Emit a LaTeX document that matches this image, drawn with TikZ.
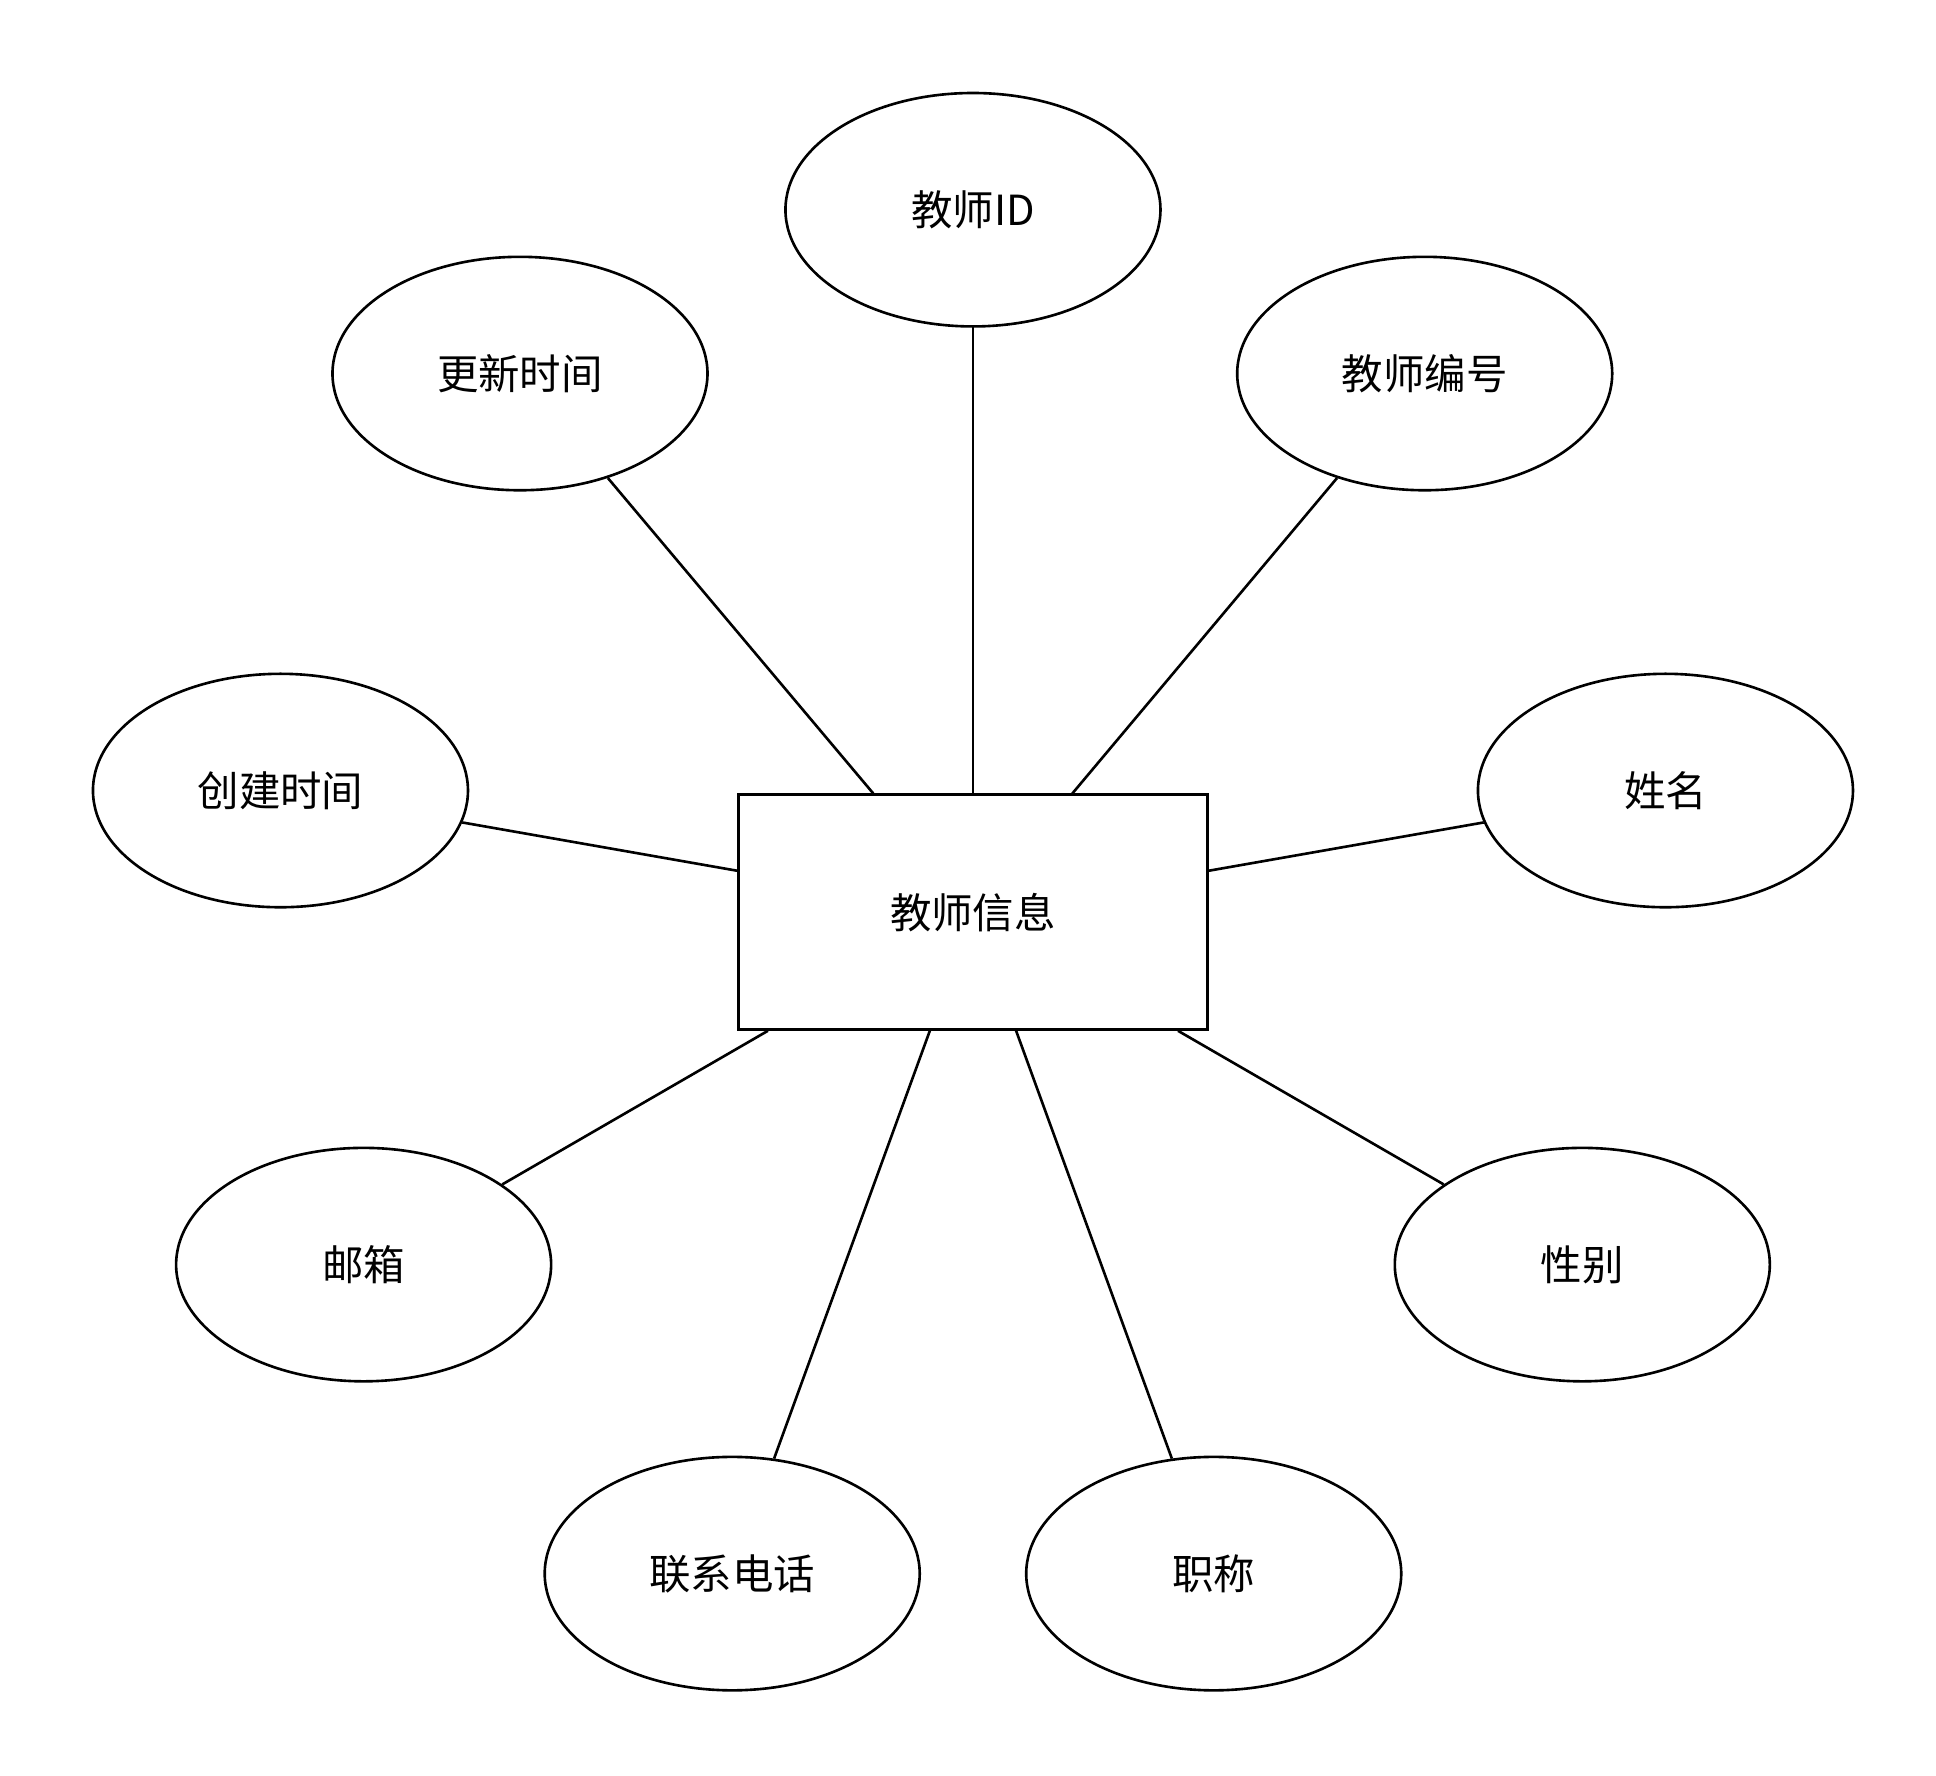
\documentclass[tikz,border=0pt]{standalone}
\usepackage{fontspec}
\setmainfont{Noto Sans CJK SC}
\usetikzlibrary{shapes.geometric}
\tikzset{
  attr/.style={ellipse, draw, line width=0.6pt, minimum width=3.02cm, minimum height=1.88cm, inner sep=0pt},
  entity/.style={rectangle, draw, line width=0.6pt, minimum width=3.78cm, minimum height=1.89cm},
  link/.style={line width=0.6pt}
}
\begin{document}
\begin{tikzpicture}[x=0.01cm, y=-0.01cm, font=\fontsize{9.5}{11}\selectfont]
        \useasboundingbox (0,0) rectangle (1560,1431);
        \node[entity] (info) at (784,735) {教师信息};
        \node[attr] (tid) at (784,169) {教师ID};
        \node[attr] (upd) at (419,301) {更新时间};
        \node[attr] (num) at (1148,301) {教师编号};
        \node[attr] (crt) at (226,637) {创建时间};
        \node[attr] (name) at (1342,637) {姓名};
        \node[attr] (mail) at (293,1019) {邮箱};
        \node[attr] (sex) at (1275,1019) {性别};
        \node[attr] (tel) at (590,1268) {联系电话};
        \node[attr] (title) at (978,1268) {职称};
        \foreach \a in {tid, upd, num, crt, name, mail, sex, tel, title}
            \draw[link] (info) -- (\a);
    \end{tikzpicture}
\end{document}
